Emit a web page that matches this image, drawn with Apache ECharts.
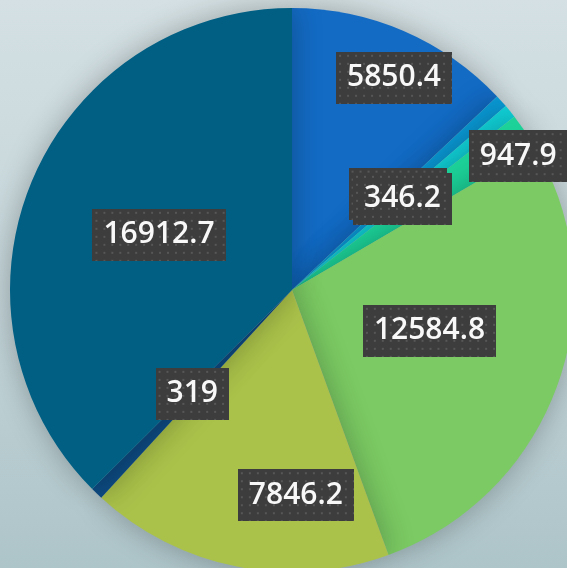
<!DOCTYPE html>
<html><head><meta charset="utf-8">
<script src="https://cdn.jsdelivr.net/npm/echarts@6/dist/echarts.min.js"></script>
<style>html,body{margin:0;padding:0;}#c{width:567px;height:568px;background:linear-gradient(180deg,#d4e0e3 0%,#c3d4d8 55%,#adc4c8 100%);}</style>
</head><body><div id="c"></div>
<script>
// data
const values = [5850.4, 331.4, 346.2, 947.9, 12584.8, 7846.2, 319, 16912.7];
const colors = ['#136bc4', '#0a9ad6', '#10cfd6', '#1cd298', '#7bca63', '#aac24a', '#0d4a80', '#015f84'];
const labelOffsets = [[45, -80], [-1, 0], [-1, 0], [107, -53], [2, -8], [32, 64], [0, 0], [0, 0]];

const FONT = '600 30px "Open Sans"';
const PAD = [10, 11, 8, 11];
const LH = 34;
const mc = document.createElement('canvas').getContext('2d');
mc.font = FONT;
function makeBg(text) {
  const w = Math.ceil(mc.measureText(text).width) + PAD[1] + PAD[3];
  const h = LH + PAD[0] + PAD[2];
  const c = document.createElement('canvas');
  c.width = w; c.height = h;
  const x = c.getContext('2d');
  x.fillStyle = '#3d3d3d'; x.fillRect(0, 0, w, h);
  x.fillStyle = '#575757';
  for (let yy = 3; yy < h; yy += 8) for (let xx = 3; xx < w; xx += 8) x.fillRect(xx, yy, 2, 2);
  return c;
}

const chart = echarts.init(document.getElementById('c'), null, {renderer: 'canvas'});
chart.setOption({
  animation: false,
  series: [{
    type: 'pie',
    center: [292, 290],
    radius: 282,
    startAngle: 90,
    avoidLabelOverlap: false,
    labelLayout: {hideOverlap: false},
    itemStyle: {shadowBlur: 30, shadowColor: 'rgba(0,0,0,0.28)'},
    label: {
      show: true,
      position: 'inside',
      formatter: p => String(p.value),
      color: '#f8f8f8',
      fontFamily: '"Open Sans"',
      fontWeight: 600,
      fontSize: 30,
      lineHeight: LH,
      padding: PAD,
      shadowColor: 'rgba(0,0,0,0.55)',
      shadowBlur: 6,
      shadowOffsetX: 3,
      shadowOffsetY: 4
    },
    labelLine: {show: false},
    emphasis: {disabled: true},
    data: values.map((v, i) => ({
      value: v,
      itemStyle: {color: colors[i]},
      label: {offset: labelOffsets[i], backgroundColor: {image: makeBg(String(v))}}
    }))
  }]
});
</script></body></html>
